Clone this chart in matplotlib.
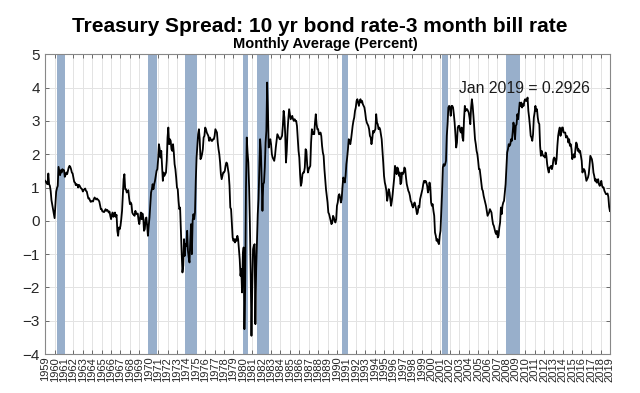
import matplotlib.pyplot as plt
import numpy as np

plt.rcParams['font.family'] = ['Liberation Sans', 'DejaVu Sans']

# monthly spread, percent (10y - 3m), Jan 1959 .. Jan 2019, one row per year
spread_1959_1968 = [
    1.20, 1.17, 1.12, 1.10, 1.42, 1.10, 1.05, 0.90, 0.62, 0.48, 0.32, 0.20,
    0.08, 0.45, 0.87, 0.98, 1.05, 1.62, 1.50, 1.37, 1.52, 1.45, 1.55, 1.52,
    1.52, 1.32, 1.38, 1.45, 1.40, 1.50, 1.60, 1.65, 1.62, 1.55, 1.45, 1.42,
    1.30, 1.17, 1.15, 1.07, 1.10, 1.08, 1.00, 1.08, 1.05, 1.00, 0.97, 0.95,
    0.88, 0.92, 0.95, 0.97, 0.90, 0.88, 0.78, 0.67, 0.68, 0.62, 0.57, 0.58,
    0.60, 0.58, 0.65, 0.70, 0.67, 0.64, 0.67, 0.64, 0.62, 0.58, 0.47, 0.35,
    0.35, 0.28, 0.28, 0.26, 0.30, 0.35, 0.30, 0.33, 0.30, 0.25, 0.28, 0.15,
    0.05, 0.18, 0.25, 0.12, 0.15, 0.25, 0.12, 0.18, -0.30, -0.45, -0.20, -0.25,
    -0.15, 0.05, 0.30, 0.75, 1.25, 1.40, 0.95, 0.95, 0.85, 0.88, 0.92, 0.68,
    0.50, 0.55, 0.50, 0.25, 0.20, 0.18, 0.15, 0.30, 0.22, 0.20, 0.22, 0.02,
]
spread_1969_1978 = [
    -0.10, 0.10, 0.25, 0.05, 0.22, 0.10, -0.30, -0.25, 0.05, 0.10, -0.15, -0.45,
    -0.15, 0.10, 0.50, 0.85, 0.95, 1.10, 0.95, 1.10, 1.20, 1.35, 1.50, 1.55,
    1.85, 2.30, 2.15, 1.90, 2.10, 1.65, 1.20, 1.45, 1.35, 1.40, 1.45, 1.80,
    2.50, 2.80, 2.30, 2.45, 2.40, 2.15, 2.10, 2.30, 2.05, 1.70, 1.55, 1.30,
    1.00, 0.95, 0.60, 0.35, 0.40, -0.30, -0.95, -1.55, -1.35, -0.55, -1.05, -0.70,
    -0.75, -0.30, -0.90, -1.10, -1.25, -0.60, -0.10, -1.00, 0.00, 0.20, 0.05, 0.25,
    1.20, 1.90, 2.25, 2.60, 2.75, 2.45, 1.85, 1.90, 2.00, 2.15, 2.50, 2.55,
    2.80, 2.75, 2.65, 2.60, 2.55, 2.40, 2.50, 2.45, 2.40, 2.40, 2.45, 2.45,
    2.55, 2.75, 2.70, 2.65, 2.35, 2.15, 2.00, 1.75, 1.40, 1.25, 1.35, 1.45,
    1.45, 1.50, 1.65, 1.75, 1.72, 1.55, 1.40, 1.05, 0.40, 0.35, -0.10, -0.50,
]
spread_1979_1988 = [
    -0.60, -0.55, -0.65, -0.55, -0.60, -0.45, -0.55, -0.85, -1.15, -1.65, -1.45, -2.15,
    -1.05, -0.80, -3.25, -2.00, 1.00, 2.50, 2.05, 1.75, 1.00, -0.10, -1.55, -3.45,
    -2.00, -0.85, -0.75, -0.70, -3.10, -1.45, -0.60, 0.20, 0.65, 1.60, 2.45, 2.10,
    1.20, 0.30, 1.10, 1.15, 1.60, 2.35, 2.70, 4.15, 3.30, 2.20, 2.35, 2.45,
    2.30, 2.00, 1.90, 1.85, 1.80, 1.95, 2.20, 2.40, 2.60, 2.55, 2.50, 2.45,
    2.45, 2.50, 2.55, 2.85, 3.30, 3.10, 2.60, 1.75, 2.10, 2.70, 3.05, 3.35,
    3.20, 3.05, 3.10, 3.15, 3.05, 3.00, 3.05, 3.00, 3.00, 2.85, 2.45, 2.10,
    1.90, 1.40, 1.05, 1.15, 1.40, 1.45, 1.45, 1.60, 2.15, 2.10, 1.70, 1.45,
    1.55, 1.60, 1.65, 2.35, 2.75, 2.60, 2.65, 2.60, 2.95, 3.20, 2.90, 2.75,
    2.75, 2.60, 2.60, 2.65, 2.55, 2.25, 2.05, 1.95, 1.55, 1.25, 0.95, 0.75,
]
spread_1989_1998 = [
    0.55, 0.25, 0.20, 0.10, 0.00, -0.10, -0.05, 0.15, 0.10, 0.00, -0.05, 0.05,
    0.45, 0.55, 0.75, 0.80, 0.70, 0.55, 0.65, 1.00, 1.30, 1.25, 1.15, 1.35,
    1.70, 1.90, 2.15, 2.45, 2.40, 2.30, 2.45, 2.65, 2.85, 3.00, 3.10, 3.30,
    3.40, 3.60, 3.65, 3.55, 3.45, 3.60, 3.65, 3.55, 3.60, 3.50, 3.45, 3.40,
    3.25, 3.05, 2.95, 2.90, 2.85, 2.75, 2.55, 2.50, 2.30, 2.45, 2.70, 2.65,
    2.70, 2.75, 3.20, 2.95, 2.90, 2.75, 2.80, 2.75, 2.60, 2.45, 2.10, 1.75,
    1.35, 1.15, 1.05, 0.90, 0.60, 0.75, 0.95, 0.85, 0.65, 0.45, 0.60, 0.80,
    1.05, 1.30, 1.65, 1.55, 1.40, 1.60, 1.55, 1.35, 1.45, 1.10, 1.15, 1.45,
    1.40, 1.45, 1.60, 1.55, 1.30, 1.10, 1.00, 0.90, 0.85, 0.75, 0.60, 0.55,
    0.45, 0.40, 0.50, 0.55, 0.45, 0.35, 0.20, 0.25, 0.45, 0.40, 0.65, 0.75,
]
spread_1999_2008 = [
    0.85, 0.95, 1.10, 1.20, 1.15, 1.20, 1.15, 1.05, 0.85, 0.95, 1.15, 1.00,
    0.55, 0.45, 0.50, 0.30, 0.15, -0.35, -0.45, -0.60, -0.55, -0.65, -0.70, -0.45,
    -0.30, 0.30, 0.85, 1.60, 1.70, 1.65, 1.70, 1.80, 2.55, 2.90, 3.40, 3.45,
    3.40, 3.15, 3.45, 3.45, 3.40, 3.20, 2.95, 2.60, 2.20, 2.35, 2.80, 2.85,
    2.85, 2.70, 2.65, 2.80, 2.50, 2.40, 3.05, 3.45, 3.30, 3.35, 3.35, 3.30,
    3.25, 3.10, 2.90, 3.40, 3.65, 3.45, 3.15, 2.80, 2.45, 2.30, 2.10, 2.00,
    1.80, 1.55, 1.55, 1.35, 1.15, 0.95, 0.90, 0.75, 0.65, 0.55, 0.45, 0.30,
    0.15, 0.20, 0.25, 0.35, 0.30, 0.25, 0.05, -0.10, -0.15, -0.25, -0.35, -0.40,
    -0.30, -0.50, -0.45, -0.20, -0.05, 0.40, 0.20, 0.45, 0.55, 0.60, 0.85, 1.10,
    1.60, 2.05, 2.15, 2.30, 2.25, 2.30, 2.45, 2.40, 2.65, 2.95, 2.80, 2.45,
]
spread_2009_2019 = [
    2.85, 2.90, 3.20, 3.05, 3.30, 3.55, 3.45, 3.55, 3.40, 3.50, 3.45, 3.60,
    3.65, 3.60, 3.60, 3.70, 3.30, 3.10, 2.85, 2.55, 2.50, 2.40, 2.60, 3.10,
    3.25, 3.45, 3.30, 3.35, 3.10, 2.95, 2.90, 2.25, 1.95, 2.10, 2.00, 1.95,
    1.95, 1.90, 2.05, 1.95, 1.70, 1.55, 1.45, 1.60, 1.60, 1.65, 1.55, 1.65,
    1.85, 1.90, 1.85, 1.70, 1.85, 2.25, 2.55, 2.70, 2.80, 2.55, 2.65, 2.80,
    2.80, 2.65, 2.65, 2.65, 2.50, 2.55, 2.50, 2.35, 2.45, 2.25, 2.30, 2.15,
    1.85, 1.95, 2.00, 1.90, 2.15, 2.35, 2.30, 2.10, 2.15, 2.05, 2.10, 1.95,
    1.80, 1.45, 1.55, 1.55, 1.50, 1.35, 1.20, 1.25, 1.30, 1.40, 1.65, 1.95,
    1.90, 1.85, 1.70, 1.45, 1.35, 1.20, 1.25, 1.15, 1.15, 1.25, 1.10, 1.05,
    1.10, 1.20, 1.05, 1.00, 1.00, 0.90, 0.85, 0.80, 0.80, 0.82, 0.72, 0.42,
    0.2926,
]

# NBER recessions (decimal years)
rec_start = [1960.25, 1969.92, 1973.83, 1980.00, 1981.50, 1990.50, 2001.17, 2007.92]
rec_end = [1961.08, 1970.83, 1975.17, 1980.50, 1982.83, 1991.17, 2001.83, 2009.42]

years = np.arange(1959, 2020)

spread = np.concatenate([spread_1959_1968, spread_1969_1978, spread_1979_1988,
                         spread_1989_1998, spread_1999_2008, spread_2009_2019])
t = 1959 + np.arange(len(spread)) / 12.0

fig = plt.figure(figsize=(6.4, 3.93), dpi=100)
ax = fig.add_axes([0.0706, 0.099, 0.8824, 0.763])

for a, b in zip(rec_start, rec_end):
    ax.axvspan(a, b, color='#98afcb', lw=0, zorder=1)

ax.plot(t, spread, color='black', lw=1.3, zorder=3)

ax.set_xlim(1959, 2019)
ax.set_ylim(-4, 5)
ax.set_xticks(years)
ax.set_xticklabels([str(y) for y in years], rotation=90, fontsize=8)
ax.set_yticks(np.arange(-4, 6))
ax.tick_params(axis='y', labelsize=11, pad=4)
ax.tick_params(axis='x', pad=2)
ax.tick_params(direction='in', top=True, right=True, length=3,
               color='#555555', width=0.6, labelcolor='#262626')
ax.grid(True, color='#e3e3e3', lw=0.7, zorder=0)
ax.set_axisbelow(True)
for s in ax.spines.values():
    s.set_color('#888888')
    s.set_linewidth(0.8)

ax.text(2003.0, 3.96, 'Jan 2019 = 0.2926', fontsize=11.3, va='center', ha='left',
        color='#1a1a1a', zorder=4)

fig.text(0.5, 0.919, 'Treasury Spread: 10 yr bond rate-3 month bill rate',
         ha='center', va='baseline', fontsize=15, fontweight='bold')
fig.text(0.508, 0.877, 'Monthly Average (Percent)',
         ha='center', va='baseline', fontsize=10.5, fontweight='bold')

fig.savefig('out.png', dpi=100)
